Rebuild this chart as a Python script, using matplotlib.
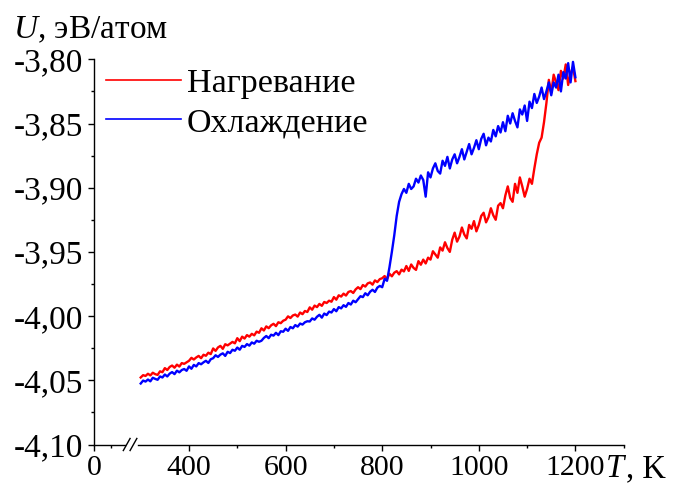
import numpy as np
import matplotlib
matplotlib.use("Agg")
import matplotlib.pyplot as plt
from matplotlib.ticker import FixedLocator, FixedFormatter

plt.rcParams['font.family'] = ['Liberation Serif', 'DejaVu Serif']
plt.rcParams['mathtext.fontset'] = 'custom'
plt.rcParams['mathtext.rm'] = 'Liberation Serif'
plt.rcParams['mathtext.it'] = 'Liberation Serif:italic'

# ------------------------------------------------------------------
# Data: potential energy per atom, heating and cooling runs (T step 5 K)
# ------------------------------------------------------------------
T = np.arange(300, 1201, 5)

U_heat = [
    -4.0478, -4.0460, -4.0466, -4.0449, -4.0462, -4.0441, -4.0452, -4.0458, -4.0430, -4.0437,
    -4.0405, -4.0420, -4.0396, -4.0385, -4.0402, -4.0378, -4.0393, -4.0366, -4.0372, -4.0360,
    -4.0348, -4.0325, -4.0338, -4.0322, -4.0310, -4.0328, -4.0301, -4.0309, -4.0285, -4.0296,
    -4.0252, -4.0271, -4.0244, -4.0232, -4.0255, -4.0219, -4.0228, -4.0215, -4.0201, -4.0212,
    -4.0172, -4.0195, -4.0160, -4.0175, -4.0148, -4.0160, -4.0138, -4.0150, -4.0121, -4.0130,
    -4.0095, -4.0112, -4.0080, -4.0094, -4.0072, -4.0060, -4.0078, -4.0048, -4.0055, -4.0036,
    -4.0028, -4.0002, -4.0015, -3.9995, -3.9988, -4.0004, -3.9972, -3.9985, -3.9960, -3.9968,
    -3.9932, -3.9950, -3.9918, -3.9930, -3.9905, -3.9920, -3.9890, -3.9898, -3.9880, -3.9888,
    -3.9852, -3.9872, -3.9838, -3.9848, -3.9825, -3.9840, -3.9812, -3.9805, -3.9820, -3.9792,
    -3.9775, -3.9790, -3.9758, -3.9770, -3.9745, -3.9738, -3.9755, -3.9722, -3.9735, -3.9712,
    -3.9705, -3.9688, -3.9712, -3.9670, -3.9690, -3.9662, -3.9650, -3.9675, -3.9638, -3.9652,
    -3.9610, -3.9648, -3.9598, -3.9625, -3.9640, -3.9572, -3.9600, -3.9560, -3.9590, -3.9545,
    -3.9560, -3.9495, -3.9520, -3.9545, -3.9465, -3.9490, -3.9425, -3.9470, -3.9500, -3.9405,
    -3.9350, -3.9420, -3.9380, -3.9310, -3.9365, -3.9395, -3.9290, -3.9320, -3.9260, -3.9340,
    -3.9290, -3.9220, -3.9195, -3.9270, -3.9230, -3.9160, -3.9215, -3.9250, -3.9140, -3.9120,
    -3.9160, -3.9060, -3.8990, -3.9080, -3.9110, -3.8970, -3.9040, -3.8920, -3.8990, -3.9070,
    -3.9010, -3.8930, -3.8970, -3.8850, -3.8740, -3.8650, -3.8610, -3.8490, -3.8340, -3.8160,
    -3.8260, -3.8120, -3.8180, -3.8240, -3.8090, -3.8150, -3.8040, -3.8200, -3.8110, -3.8060,
    -3.8170,
]

U_cool = [
    -4.0525, -4.0502, -4.0510, -4.0494, -4.0508, -4.0480, -4.0489, -4.0496, -4.0470, -4.0478,
    -4.0455, -4.0470, -4.0448, -4.0436, -4.0452, -4.0425, -4.0438, -4.0420, -4.0412, -4.0426,
    -4.0392, -4.0410, -4.0380, -4.0392, -4.0366, -4.0375, -4.0360, -4.0348, -4.0365, -4.0336,
    -4.0328, -4.0305, -4.0318, -4.0300, -4.0290, -4.0310, -4.0278, -4.0288, -4.0262, -4.0270,
    -4.0245, -4.0262, -4.0232, -4.0240, -4.0218, -4.0230, -4.0205, -4.0215, -4.0192, -4.0200,
    -4.0192, -4.0170, -4.0155, -4.0172, -4.0145, -4.0152, -4.0130, -4.0148, -4.0118, -4.0122,
    -4.0098, -4.0115, -4.0085, -4.0095, -4.0070, -4.0082, -4.0058, -4.0066, -4.0048, -4.0040,
    -4.0042, -4.0018, -4.0028, -4.0005, -3.9990, -4.0012, -3.9980, -3.9992, -3.9965, -3.9972,
    -3.9945, -3.9962, -3.9930, -3.9940, -3.9915, -3.9928, -3.9898, -3.9910, -3.9880, -3.9892,
    -3.9868, -3.9845, -3.9852, -3.9822, -3.9838, -3.9810, -3.9795, -3.9812, -3.9778, -3.9765,
    -3.9775, -3.9710, -3.9725, -3.9620, -3.9500, -3.9370, -3.9220, -3.9110, -3.9050, -3.9010,
    -3.9040, -3.8970, -3.9010, -3.8990, -3.8930, -3.8960, -3.8905, -3.8940, -3.9070, -3.8880,
    -3.8920, -3.8850, -3.8810, -3.8870, -3.8890, -3.8790, -3.8830, -3.8760, -3.8850, -3.8780,
    -3.8740, -3.8810, -3.8760, -3.8700, -3.8780, -3.8720, -3.8660, -3.8740, -3.8690, -3.8630,
    -3.8700, -3.8620, -3.8580, -3.8670, -3.8610, -3.8640, -3.8550, -3.8600, -3.8520, -3.8570,
    -3.8490, -3.8560, -3.8440, -3.8500, -3.8420, -3.8480, -3.8530, -3.8390, -3.8430, -3.8360,
    -3.8480, -3.8330, -3.8380, -3.8270, -3.8340, -3.8290, -3.8220, -3.8310, -3.8250, -3.8180,
    -3.8280, -3.8180, -3.8220, -3.8120, -3.8250, -3.8100, -3.8150, -3.8030, -3.8180, -3.8020,
    -3.8140,
]

labels = ['Нагревание', 'Охлаждение']
colors = ['#ff0000', '#0000ff']

y_ticks = [-4.10, -4.05, -4.00, -3.95, -3.90, -3.85, -3.80]
y_ticklabels = ['-4,10', '-4,05', '-4,00', '-3,95', '-3,90', '-3,85', '-3,80']
y_minor = [-4.075, -4.025, -3.975, -3.925, -3.875, -3.825]

# broken T axis: "0" sits left of the break
x_zero = 203.3
x_ticks = [x_zero, 400, 600, 800, 1000, 1200]
x_ticklabels = ['0', '400', '600', '800', '1000', '1200']
x_minor = [238.5, 500, 700, 900, 1100, 1300]

# ------------------------------------------------------------------
# Figure
# ------------------------------------------------------------------
fig = plt.figure(figsize=(6.77, 4.86), dpi=100)
ax = fig.add_axes([94 / 677, 1 - 444.5 / 486, (623.7 - 94) / 677, (444.5 - 59.3) / 486])

ax.plot(T, U_heat, color=colors[0], lw=1.7, label=labels[0])
ax.plot(T, U_cool, color=colors[1], lw=1.7, label=labels[1])

ax.set_xlim(x_zero, 1300)
ax.set_ylim(-4.10, -3.80)

ax.spines['top'].set_visible(False)
ax.spines['right'].set_visible(False)
for s in ['left', 'bottom']:
    ax.spines[s].set_linewidth(1.0)
ax.spines['bottom'].set_bounds(294, 1300)

# left piece of the x axis and the break marks
ax.plot([x_zero, 267], [-4.10, -4.10], color='k', lw=1.0, clip_on=False)
for x0 in (264, 278):
    ax.plot([x0, x0 + 14], [-4.1047, -4.0953], color='k', lw=1.0, clip_on=False)

ax.yaxis.set_major_locator(FixedLocator(y_ticks))
ax.yaxis.set_major_formatter(FixedFormatter(y_ticklabels))
ax.yaxis.set_minor_locator(FixedLocator(y_minor))
ax.xaxis.set_major_locator(FixedLocator(x_ticks))
ax.xaxis.set_major_formatter(FixedFormatter(x_ticklabels))
ax.xaxis.set_minor_locator(FixedLocator(x_minor))

ax.tick_params(which='major', direction='out', length=4.5, width=1.0, pad=3)
ax.tick_params(which='minor', direction='out', length=2.2, width=1.0)
ax.tick_params(axis='y', labelsize=24)
ax.tick_params(axis='x', labelsize=21.5)

leg = ax.legend(loc='upper left', bbox_to_anchor=(106 / 677, 1 - 68 / 486), bbox_transform=fig.transFigure,
                frameon=False, fontsize=24.5, handlelength=2.2, handletextpad=0.18,
                labelspacing=0.25, borderpad=0, borderaxespad=0)
for h in leg.legend_handles:
    h.set_linewidth(1.2)

fig.text(13 / 677, 1 - 38 / 486, '$U$, эВ/атом', fontsize=24, ha='left', va='baseline')
fig.text(606 / 677, 1 - 477 / 486, 'T', fontsize=23.5, style='italic', ha='left', va='baseline')
fig.text(626 / 677, 1 - 477 / 486, ', K', fontsize=23.5, ha='left', va='baseline')

fig.savefig('out.png', dpi=100)
